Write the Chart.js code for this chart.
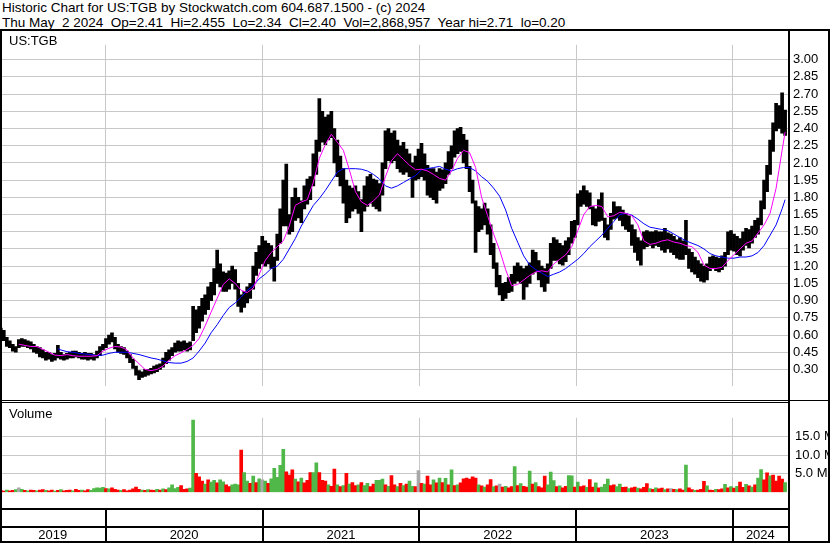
<!DOCTYPE html>
<html>
<head>
<meta charset="utf-8">
<script src="https://cdn.jsdelivr.net/npm/chart.js@4"></script>
<style>
    body { margin: 0; background: #fff; font-family: "Liberation Sans", Arial, sans-serif; }
    #page { position: relative; width: 830px; height: 543px; overflow: hidden; background: #fff; }
    .txt { position: absolute; white-space: pre; color: #000; line-height: 1; }
    .ln { position: absolute; background: #000; }
    canvas { position: absolute; }
</style>
</head>
<body>
<div id="page">
    <div class="txt" style="left:2px;top:1px;font-size:13.5px">Historic Chart for US:TGB by Stockwatch.com 604.687.1500 - (c) 2024</div>
    <div class="txt" style="left:2px;top:16px;font-size:13.5px">Thu May  2 2024  Op=2.41  Hi=2.455  Lo=2.34  Cl=2.40  Vol=2,868,957  Year hi=2.71  lo=0.20</div>
    <canvas id="priceChart" width="830" height="367" style="left:0;top:32px"></canvas>
    <canvas id="volChart" width="830" height="104" style="left:0;top:403px"></canvas>
    <div class="txt" style="left:9px;top:34px;font-size:13px">US:TGB</div>
    <div class="txt" style="left:9px;top:407px;font-size:13px">Volume</div>
    <div class="ln" style="left:0;top:29px;width:830px;height:2px"></div>
    <div class="ln" style="left:0;top:29px;width:2px;height:514px"></div>
    <div class="ln" style="left:788px;top:29px;width:2px;height:514px"></div>
    <div class="ln" style="left:828px;top:29px;width:2px;height:514px"></div>
    <div class="ln" style="left:0;top:400px;width:830px;height:1px"></div>
    <div class="ln" style="left:0;top:402px;width:789px;height:1px"></div>
    <div class="ln" style="left:0;top:508px;width:789px;height:2px"></div>
    <div class="ln" style="left:0;top:526px;width:789px;height:2px"></div>
    <div class="ln" style="left:0;top:541px;width:830px;height:2px"></div>
    <div id="years"></div>
</div>
<script>
// weekly bars, week 0 = first week of May 2019, week 261 = May 2 2024
var priceLow = [
    0.60, 0.55, 0.50, 0.49, 0.46, 0.45, 0.49, 0.50, 0.50, 0.49,
    0.48, 0.45, 0.44, 0.41, 0.40, 0.38, 0.39, 0.37, 0.38, 0.40,
    0.39, 0.38, 0.39, 0.40, 0.40, 0.41, 0.40, 0.39, 0.39, 0.38,
    0.39, 0.38, 0.40, 0.42, 0.47, 0.49, 0.52, 0.54, 0.48, 0.45,
    0.44, 0.43, 0.40, 0.36, 0.31, 0.25, 0.21, 0.23, 0.24, 0.25,
    0.26, 0.27, 0.28, 0.30, 0.32, 0.35, 0.38, 0.42, 0.45, 0.46,
    0.46, 0.47, 0.46, 0.47, 0.55, 0.62, 0.66, 0.72, 0.78, 0.82,
    0.90, 0.95, 1.05, 1.02, 0.98, 0.98, 1.00, 1.05, 1.00, 0.85,
    0.80, 0.84, 0.88, 0.92, 1.00, 1.12, 1.18, 1.22, 1.20, 1.22,
    1.18, 1.07, 1.25, 1.40, 1.55, 1.55, 1.48, 1.50, 1.60, 1.62,
    1.58, 1.70, 1.74, 1.78, 1.90, 2.00, 2.20, 2.28, 2.26, 2.30,
    2.32, 2.10, 1.98, 1.90, 1.75, 1.58, 1.62, 1.68, 1.70, 1.66,
    1.50, 1.68, 1.72, 1.75, 1.72, 1.70, 1.68, 1.82, 2.05, 2.12,
    2.10, 2.12, 2.05, 2.02, 2.00, 2.02, 1.98, 1.80, 1.95, 1.96,
    1.98, 1.95, 1.82, 1.80, 1.78, 1.75, 1.86, 1.88, 1.92, 2.00,
    2.05, 2.15, 2.18, 2.20, 2.10, 2.05, 1.85, 1.75, 1.32, 1.50,
    1.52, 1.56, 1.48, 1.30, 1.18, 1.02, 0.95, 0.90, 0.92, 0.97,
    0.98, 1.05, 1.07, 1.05, 0.91, 1.02, 1.05, 1.13, 1.15, 1.08,
    1.02, 0.98, 1.05, 1.18, 1.25, 1.25, 1.22, 1.21, 1.24, 1.30,
    1.40, 1.45, 1.56, 1.72, 1.74, 1.72, 1.70, 1.56, 1.55, 1.59,
    1.60, 1.45, 1.43, 1.52, 1.61, 1.62, 1.60, 1.55, 1.52, 1.50,
    1.38, 1.32, 1.25, 1.21, 1.35, 1.37, 1.38, 1.36, 1.38, 1.37,
    1.34, 1.32, 1.35, 1.32, 1.30, 1.27, 1.26, 1.26, 1.30, 1.18,
    1.15, 1.13, 1.10, 1.07, 1.06, 1.08, 1.16, 1.18, 1.16, 1.15,
    1.17, 1.20, 1.30, 1.34, 1.33, 1.30, 1.29, 1.34, 1.38, 1.36,
    1.40, 1.45, 1.48, 1.56, 1.70, 1.85, 2.00, 2.20, 2.38, 2.40,
    2.36, 2.34
];
var priceHigh = [
    0.66, 0.64, 0.58, 0.55, 0.52, 0.50, 0.56, 0.57, 0.56, 0.55,
    0.54, 0.52, 0.50, 0.49, 0.47, 0.45, 0.45, 0.43, 0.44, 0.51,
    0.45, 0.43, 0.44, 0.45, 0.46, 0.46, 0.45, 0.44, 0.45, 0.44,
    0.44, 0.43, 0.46, 0.50, 0.52, 0.57, 0.60, 0.62, 0.58, 0.52,
    0.50, 0.49, 0.46, 0.43, 0.39, 0.33, 0.29, 0.28, 0.30, 0.30,
    0.31, 0.33, 0.34, 0.35, 0.40, 0.45, 0.47, 0.49, 0.53, 0.55,
    0.54, 0.55, 0.53, 0.54, 0.85, 0.82, 0.85, 0.92, 0.95, 1.02,
    1.06, 1.18, 1.34, 1.22, 1.15, 1.14, 1.16, 1.20, 1.17, 1.05,
    0.95, 0.98, 1.02, 1.05, 1.20, 1.32, 1.38, 1.46, 1.42, 1.40,
    1.38, 1.28, 1.48, 1.70, 1.95, 2.09, 1.65, 1.80, 1.88, 1.80,
    1.77, 1.90, 1.96, 1.98, 2.18, 2.30, 2.66, 2.55, 2.50, 2.52,
    2.55, 2.40, 2.30, 2.16, 2.05, 1.95, 1.90, 1.88, 1.90, 1.85,
    1.78, 1.90, 1.98, 2.00, 1.96, 1.95, 1.92, 2.10, 2.38, 2.40,
    2.36, 2.38, 2.30, 2.25, 2.28, 2.22, 2.18, 2.10, 2.16, 2.22,
    2.27, 2.18, 2.08, 2.05, 2.05, 2.02, 2.05, 2.04, 2.10, 2.20,
    2.25, 2.38, 2.40, 2.41, 2.35, 2.30, 2.07, 1.95, 1.77, 1.72,
    1.70, 1.75, 1.70, 1.56, 1.40, 1.23, 1.12, 1.05, 1.06, 1.10,
    1.13, 1.20, 1.23, 1.20, 1.18, 1.20, 1.23, 1.34, 1.32, 1.25,
    1.20, 1.18, 1.22, 1.40, 1.45, 1.43, 1.40, 1.38, 1.42, 1.45,
    1.59, 1.60, 1.83, 1.86, 1.90, 1.86, 1.84, 1.72, 1.70, 1.78,
    1.84, 1.62, 1.56, 1.66, 1.76, 1.72, 1.72, 1.69, 1.66, 1.64,
    1.56, 1.52, 1.45, 1.42, 1.50, 1.51, 1.50, 1.50, 1.51, 1.50,
    1.50, 1.53, 1.49, 1.48, 1.46, 1.43, 1.45, 1.42, 1.60, 1.35,
    1.32, 1.28, 1.25, 1.22, 1.20, 1.22, 1.28, 1.29, 1.28, 1.27,
    1.29, 1.32, 1.50, 1.51, 1.48, 1.46, 1.44, 1.50, 1.53, 1.52,
    1.55, 1.60, 1.62, 1.77, 1.95, 2.08, 2.30, 2.45, 2.62, 2.60,
    2.71, 2.56
];
// moving averages as [week, value]
var fastMa = [
    [6, 0.52], [8, 0.51], [10, 0.50], [12, 0.50], [14, 0.475], [16, 0.45], [18, 0.425], [20, 0.42],
    [22, 0.43], [24, 0.42], [26, 0.415], [28, 0.415], [30, 0.415], [32, 0.42], [34, 0.46], [36, 0.485],
    [38, 0.50], [40, 0.495], [42, 0.47], [44, 0.40], [46, 0.35], [48, 0.30], [50, 0.29], [52, 0.30],
    [54, 0.33], [56, 0.38], [58, 0.42], [60, 0.445], [62, 0.475], [64, 0.51], [66, 0.57], [68, 0.68],
    [70, 0.80], [72, 0.92], [74, 1.04], [76, 1.09], [78, 1.05], [80, 0.99], [82, 0.97], [84, 1.01],
    [86, 1.13], [88, 1.25], [90, 1.32], [92, 1.37], [94, 1.42], [96, 1.55], [98, 1.73], [100, 1.76],
    [102, 1.78], [104, 1.93], [106, 2.14], [108, 2.26], [110, 2.35], [112, 2.28], [114, 2.21], [116, 2.04],
    [118, 1.85], [120, 1.76], [122, 1.73], [124, 1.77], [126, 1.82], [128, 1.98], [130, 2.12], [132, 2.18],
    [134, 2.13], [136, 2.08], [138, 2.04], [140, 2.045], [142, 2.03], [144, 2.00], [146, 1.965], [148, 1.95],
    [150, 2.03], [152, 2.14], [154, 2.21], [156, 2.19], [158, 2.06], [160, 1.80], [162, 1.64], [164, 1.48],
    [166, 1.34], [168, 1.17], [170, 1.03], [172, 1.04], [174, 1.08], [176, 1.12], [178, 1.15], [180, 1.16],
    [182, 1.15], [184, 1.22], [186, 1.26], [188, 1.30], [190, 1.37], [192, 1.51], [194, 1.65], [196, 1.72],
    [198, 1.73], [200, 1.72], [202, 1.63], [204, 1.64], [206, 1.67], [208, 1.66], [210, 1.64], [212, 1.56],
    [214, 1.42], [216, 1.39], [218, 1.40], [220, 1.42], [222, 1.43], [224, 1.41], [226, 1.40], [228, 1.38],
    [230, 1.37], [232, 1.32], [234, 1.21], [236, 1.18], [238, 1.18], [240, 1.19], [242, 1.25], [244, 1.30],
    [246, 1.35], [248, 1.40], [250, 1.42], [252, 1.49], [254, 1.56], [256, 1.66], [258, 1.88], [260, 2.21],
    [261, 2.37]
];
var slowMa = [
    [19, 0.48], [20, 0.47], [22, 0.455], [24, 0.45], [26, 0.44], [28, 0.435], [30, 0.43], [32, 0.42],
    [34, 0.425], [36, 0.44], [38, 0.45], [40, 0.45], [42, 0.45], [44, 0.44], [46, 0.43], [48, 0.415],
    [50, 0.40], [52, 0.39], [54, 0.375], [56, 0.36], [58, 0.355], [60, 0.355], [62, 0.37], [64, 0.40],
    [66, 0.46], [68, 0.53], [70, 0.62], [72, 0.69], [74, 0.77], [76, 0.84], [78, 0.88], [80, 0.93],
    [82, 0.99], [84, 1.03], [86, 1.09], [88, 1.13], [90, 1.18], [92, 1.20], [94, 1.26], [96, 1.35],
    [98, 1.44], [100, 1.55], [102, 1.64], [104, 1.73], [106, 1.79], [108, 1.86], [110, 1.94], [112, 2.02],
    [114, 2.05], [116, 2.05], [118, 2.05], [120, 2.045], [122, 2.03], [124, 2.00], [126, 1.96], [128, 1.90],
    [130, 1.88], [132, 1.90], [134, 1.93], [136, 1.96], [138, 1.99], [140, 2.04], [142, 2.05], [144, 2.06],
    [146, 2.07], [148, 2.045], [150, 2.03], [152, 2.05], [154, 2.06], [156, 2.06], [158, 2.03], [160, 1.98],
    [162, 1.94], [164, 1.88], [166, 1.81], [168, 1.69], [170, 1.53], [172, 1.41], [174, 1.29], [176, 1.21],
    [178, 1.17], [180, 1.14], [182, 1.11], [184, 1.13], [186, 1.15], [188, 1.18], [190, 1.22], [192, 1.26],
    [194, 1.31], [196, 1.37], [198, 1.42], [200, 1.47], [202, 1.53], [204, 1.59], [206, 1.65], [208, 1.66],
    [210, 1.645], [212, 1.61], [214, 1.57], [216, 1.54], [218, 1.53], [220, 1.52], [222, 1.51], [224, 1.48],
    [226, 1.45], [228, 1.42], [230, 1.40], [232, 1.38], [234, 1.35], [236, 1.31], [238, 1.29], [240, 1.28],
    [242, 1.27], [244, 1.27], [246, 1.28], [248, 1.28], [250, 1.29], [252, 1.32], [254, 1.38], [256, 1.47],
    [258, 1.56], [260, 1.70], [261, 1.78]
];
// volume in millions, u = up week, d = down week, n = unchanged
var volume = [
    0.5, 0.3, 0.6, 0.4, 0.5, 0.7, 1.2, 0.8, 0.5, 0.4,
    0.6, 0.5, 0.4, 0.6, 0.7, 0.5, 0.4, 0.6, 0.3, 0.5,
    0.7, 0.4, 0.5, 0.6, 0.4, 0.8, 0.5, 0.6, 0.4, 0.7,
    0.5, 1.0, 1.2, 1.1, 1.3, 1.0, 0.9, 1.2, 0.8, 0.6,
    0.5, 0.7, 0.4, 0.6, 0.9, 1.4, 0.8, 0.6, 0.5, 0.7,
    0.6, 0.5, 0.8, 0.6, 0.9, 0.7, 1.2, 2.0, 1.0, 1.3,
    1.8, 0.8, 0.9, 1.1, 19.4, 5.1, 4.1, 3.0, 2.2, 3.3,
    2.7, 3.2, 2.5, 3.3, 2.8, 2.0, 1.5, 2.0, 2.2, 2.0,
    11.3, 5.3, 3.0, 2.4, 4.3, 2.6, 3.6, 3.3, 3.0, 2.4,
    3.6, 6.4, 4.0, 7.2, 11.5, 5.5, 4.6, 6.0, 3.5, 2.8,
    3.8, 2.5, 3.2, 5.3, 5.3, 7.9, 5.3, 3.2, 3.0, 2.0,
    1.6, 6.2, 2.0, 1.5, 1.8, 5.1, 2.2, 2.6, 1.8, 2.0,
    2.6, 1.8, 2.4, 1.5, 2.2, 3.2, 3.2, 3.5, 2.0, 1.6,
    4.5, 2.0, 1.5, 2.4, 1.8, 2.2, 3.0, 1.6, 1.5, 5.8,
    2.4, 2.2, 4.3, 2.0, 3.3, 2.5, 3.8, 2.6, 3.7, 2.0,
    6.0, 1.8, 2.0, 2.5, 3.6, 3.8, 3.5, 4.1, 3.8, 2.0,
    1.7, 1.4, 2.0, 3.4, 1.5, 1.7, 2.2, 1.4, 1.6, 1.2,
    1.5, 6.9, 1.8, 2.3, 1.6, 1.4, 5.7, 2.2, 2.6, 1.5,
    1.2, 4.3, 2.0, 5.4, 3.1, 1.5, 1.7, 1.2, 1.6, 4.5,
    4.4, 1.4, 2.7, 1.5, 1.7, 1.3, 3.4, 1.4, 2.5, 1.2,
    1.4, 2.1, 3.5, 1.8, 2.0, 1.5, 2.2, 1.3, 1.4, 1.0,
    1.2, 1.4, 1.1, 0.9, 1.3, 2.3, 1.0, 0.8, 1.2, 0.9,
    1.1, 0.7, 0.9, 1.0, 0.8, 0.7, 0.9, 0.6, 7.3, 1.2,
    0.7, 0.5, 0.6, 0.8, 2.9, 1.7, 0.6, 0.5, 0.8, 0.7,
    0.9, 2.1, 1.2, 1.5, 1.1, 1.6, 2.7, 1.3, 2.1, 1.7,
    1.4, 2.0, 3.8, 6.1, 3.3, 5.2, 4.4, 4.6, 3.0, 4.3,
    3.5, 2.6
];
var volDir = [
    "d", "d", "u", "d", "d", "u", "n", "u", "d", "u",
    "d", "d", "u", "d", "d", "u", "d", "d", "u", "d",
    "u", "d", "d", "d", "u", "d", "d", "u", "d", "d",
    "u", "u", "u", "u", "u", "d", "u", "d", "d", "d",
    "u", "d", "d", "d", "d", "d", "d", "u", "d", "u",
    "d", "d", "u", "d", "u", "d", "u", "u", "u", "u",
    "d", "d", "d", "u", "u", "d", "d", "d", "u", "d",
    "u", "u", "d", "u", "u", "d", "d", "u", "u", "u",
    "d", "u", "u", "d", "u", "d", "u", "n", "u", "d",
    "u", "u", "u", "u", "u", "d", "d", "d", "u", "d",
    "u", "d", "d", "d", "u", "u", "d", "d", "d", "u",
    "d", "d", "u", "d", "u", "d", "u", "d", "d", "u",
    "d", "u", "u", "d", "d", "u", "u", "u", "d", "u",
    "d", "d", "u", "d", "u", "d", "u", "u", "d", "n",
    "d", "u", "d", "d", "u", "d", "u", "d", "u", "d",
    "u", "d", "u", "d", "d", "d", "d", "d", "d", "u",
    "d", "u", "d", "d", "u", "d", "n", "d", "u", "d",
    "d", "u", "d", "u", "d", "d", "u", "d", "u", "d",
    "d", "d", "u", "u", "u", "d", "u", "d", "d", "u",
    "u", "d", "u", "d", "d", "u", "d", "d", "u", "d",
    "u", "u", "u", "d", "d", "u", "u", "d", "d", "u",
    "d", "d", "u", "d", "d", "d", "u", "d", "u", "d",
    "d", "u", "d", "n", "d", "u", "d", "d", "u", "d",
    "d", "u", "d", "d", "d", "u", "d", "d", "u", "d",
    "d", "u", "d", "u", "d", "u", "d", "d", "u", "d",
    "u", "d", "u", "u", "d", "d", "u", "d", "d", "d",
    "d", "u"
];
var yearStarts = [34.86, 87.14, 139.29, 191.43, 243.57];
var yearLabels = ["2019", "2020", "2021", "2022", "2023", "2024"];
var priceTicks = [0.30, 0.45, 0.60, 0.75, 0.90, 1.05, 1.20, 1.35, 1.50, 1.65, 1.80, 1.95, 2.10, 2.25, 2.40, 2.55, 2.70, 2.85, 3.00];
var volTicks = [5, 10, 15];

var xMin = 0.4;
var xMax = 261.96;
var gridColor = "#c8c8c8";
var dirColor = { u: "#50b848", d: "#ff0000", n: "#a8a8a8" };

Chart.defaults.font.family = '"Liberation Sans", Arial, sans-serif';
Chart.defaults.color = "#000";

function xScale() {
    return {
        type: "linear",
        min: xMin,
        max: xMax,
        offset: false,
        ticks: { display: false },
        grid: { color: gridColor, drawTicks: false, offset: false },
        border: { display: false },
        afterBuildTicks: function (s) {
            s.ticks = yearStarts.map(function (v) { return { value: v }; });
        },
        afterFit: function (s) { s.height = 0; },
    };
}

function toPoints(pairs) {
    return pairs.map(function (p) { return { x: p[0], y: p[1] }; });
}

var priceChart = new Chart(document.getElementById("priceChart"), {
    type: "bar",
    data: {
        datasets: [
            {
                type: "line",
                data: toPoints(fastMa),
                borderColor: "#ff00ff",
                borderWidth: 1,
                pointRadius: 0,
                order: 1,
            },
            {
                type: "line",
                data: toPoints(slowMa),
                borderColor: "#0000ff",
                borderWidth: 1,
                pointRadius: 0,
                order: 2,
            },
            {
                data: priceLow.map(function (lo, i) { return { x: i, y: [lo, priceHigh[i]] }; }),
                backgroundColor: "#000",
                barThickness: 3,
                order: 3,
            },
        ],
    },
    options: {
        responsive: false,
        animation: false,
        devicePixelRatio: 1,
        layout: { padding: { left: 2, right: 0, top: 0, bottom: 0 } },
        plugins: { legend: { display: false }, tooltip: { enabled: false } },
        scales: {
            x: xScale(),
            y: {
                position: "right",
                min: 0.154,
                max: 3.1297,
                grid: { color: gridColor, drawTicks: false },
                border: { display: false },
                ticks: {
                    padding: 5,
                    font: { size: 13 },
                    callback: function (v) { return Number(v).toFixed(2); },
                },
                afterBuildTicks: function (s) {
                    s.ticks = priceTicks.map(function (v) { return { value: v }; });
                },
                afterFit: function (s) { s.width = 42; },
            },
        },
    },
});

var volChart = new Chart(document.getElementById("volChart"), {
    type: "bar",
    data: {
        datasets: [
            {
                data: volume.map(function (v, i) { return { x: i, y: v }; }),
                backgroundColor: volDir.map(function (d) { return dirColor[d]; }),
                barThickness: 3,
            },
        ],
    },
    options: {
        responsive: false,
        animation: false,
        devicePixelRatio: 1,
        layout: { padding: { left: 2, right: 0, top: 0, bottom: 0 } },
        plugins: { legend: { display: false }, tooltip: { enabled: false } },
        scales: {
            x: xScale(),
            y: {
                position: "right",
                min: 0,
                max: 20,
                grid: { color: gridColor, drawTicks: false },
                border: { display: false },
                ticks: {
                    padding: 7,
                    font: { size: 13 },
                    callback: function (v) { return Number(v).toFixed(1) + " M"; },
                },
                afterBuildTicks: function (s) {
                    s.ticks = volTicks.map(function (v) { return { value: v }; });
                },
                afterFit: function (s) { s.width = 42; },
            },
        },
    },
});

// year row under the volume panel
var xs = volChart.scales.x;
var edges = [0].concat(yearStarts.map(function (v) { return xs.getPixelForValue(v); })).concat([788]);
var box = document.getElementById("years");
var html = "";
for (var i = 0; i < yearLabels.length; i++) {
    var mid = (edges[i] + edges[i + 1]) / 2;
    html += '<div class="txt" style="left:' + (mid - 30) + 'px;width:60px;text-align:center;top:528px;font-size:13px">' + yearLabels[i] + "</div>";
}
yearStarts.forEach(function (v) {
    var px = Math.round(xs.getPixelForValue(v)) - 1;
    html += '<div class="ln" style="left:' + px + 'px;top:510px;width:2px;height:31px"></div>';
});
box.innerHTML = html;
</script>
</body>
</html>
